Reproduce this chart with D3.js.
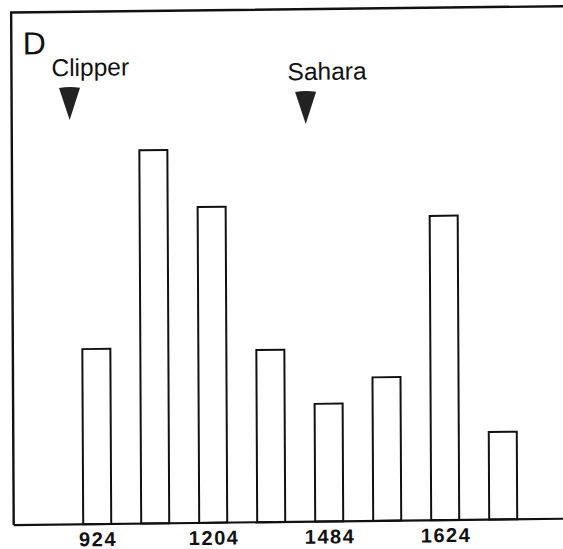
<!DOCTYPE html>
<html>
<head>
<meta charset="utf-8">
<script src="https://cdn.jsdelivr.net/npm/d3@7"></script>
<style>
  html, body { margin: 0; padding: 0; background: #fff; }
  svg { display: block; }
  text { font-family: "Liberation Sans", Arial, Helvetica, sans-serif; fill: #111; }
</style>
</head>
<body>
<script>
// ---- data ----
const categories = ["1", "2", "3", "4", "5", "6", "7", "8"];
const values = [6.1, 13, 11, 6, 4.1, 5, 10.6, 3.05];
const tickLabels = ["924", "", "1204", "", "1484", "", "1624", ""];
const markerLabels = ["Clipper", "Sahara"];
const markerAt = [-0.44, 3.63];   // in bar-index units
const panelLabel = "D";

// ---- layout ----
const W = 563, H = 549;
const frameLeft = 12.5, frameRight = 570, frameTop = 9.5, base = 522;

const svg = d3.select("body").append("svg")
  .attr("width", W).attr("height", H);

// slight scan skew of the original
const g = svg.append("g")
  .attr("transform", "matrix(1,-0.0115,0.005,1,-1.4,3.2)");

const x = d3.scaleBand()
  .domain(categories)
  .range([53, 545])
  .paddingInner(0.517)
  .paddingOuter(0.5);

const xi = d3.scaleLinear()
  .domain([0, categories.length - 1])
  .range([x(categories[0]) + x.bandwidth() / 2,
          x(categories[categories.length - 1]) + x.bandwidth() / 2]);

const y = d3.scaleLinear().domain([0, 17.85]).range([base, frameTop]);

// frame (left + top)
g.append("path")
  .attr("d", `M${frameRight},${frameTop}H${frameLeft}V${base}`)
  .attr("fill", "none").attr("stroke", "#111").attr("stroke-width", 2.4);

// bars
g.selectAll("rect.bar").data(values).join("rect")
  .attr("class", "bar")
  .attr("x", (d, i) => x(categories[i]))
  .attr("width", x.bandwidth())
  .attr("y", d => y(d))
  .attr("height", d => y(0) - y(d))
  .attr("fill", "#fff")
  .attr("stroke", "#111")
  .attr("stroke-width", 2);

// x axis (baseline + labels)
const xAxis = d3.axisBottom(x)
  .tickSize(0)
  .tickPadding(0)
  .tickFormat((d, i) => tickLabels[i]);
const ax = g.append("g").attr("transform", `translate(0,${base})`).call(xAxis);
ax.select(".domain").remove();
ax.selectAll("text")
  .attr("dy", null)
  .attr("y", 22)
  .attr("dx", "0.8px")
  .style("font-size", "20px")
  .style("font-weight", "bold")
  .style("letter-spacing", "1.6px")
  .style("font-family", '"Liberation Sans", Arial, sans-serif')
  .attr("fill", "#111");
g.append("line")
  .attr("x1", frameLeft).attr("x2", frameRight)
  .attr("y1", base).attr("y2", base)
  .attr("stroke", "#111").attr("stroke-width", 2.2);

// panel label
g.append("text")
  .attr("x", 24).attr("y", 51.5)
  .style("font-size", "32px")
  .text(panelLabel);

// markers
const markerTop = [85.6, 92.3];
markerLabels.forEach((lab, i) => {
  const cx = xi(markerAt[i]);
  const t = markerTop[i];
  g.append("text")
    .attr("x", cx - 18).attr("y", t - 12)
    .style("font-size", "24.5px")
    .text(lab);
  g.append("path")
    .attr("d", `M${cx - 10.5},${t} Q${cx},${t - 2} ${cx + 10.5},${t} L${cx},${t + 32} Z`)
    .attr("fill", "#222");
});
</script>
</body>
</html>
